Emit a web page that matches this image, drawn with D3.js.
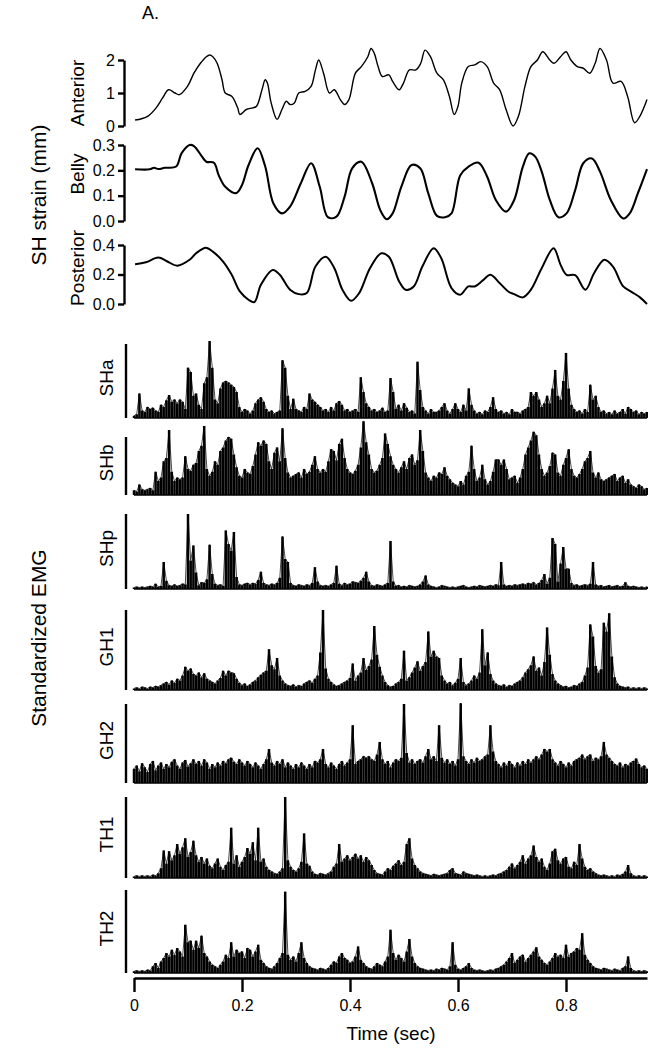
<!DOCTYPE html>
<html><head><meta charset="utf-8">
<script src="https://cdn.jsdelivr.net/npm/d3@7"></script>
<style>
body{margin:0;background:#fff}
text{font-family:"Liberation Sans",Arial,Helvetica,sans-serif;fill:#000}
</style>
</head><body>
<svg id="c" width="648" height="1050"></svg>
<script>
// ---------- strain data (time in s, strain in mm) ----------
const antT=[0.002,0.014,0.026,0.041,0.053,0.064,0.076,0.084,0.099,0.111,0.123,0.134,0.140,0.146,0.154,0.163,0.169,0.181,0.192,0.196,0.208,0.220,0.227,0.237,0.243,0.247,0.254,0.265,0.274,0.282,0.289,0.297,0.305,0.317,0.328,0.336,0.342,0.351,0.362,0.371,0.382,0.390,0.398,0.410,0.421,0.433,0.439,0.445,0.452,0.460,0.472,0.479,0.491,0.499,0.510,0.522,0.531,0.539,0.549,0.561,0.573,0.584,0.593,0.600,0.607,0.619,0.631,0.642,0.654,0.666,0.677,0.689,0.702,0.712,0.724,0.735,0.747,0.757,0.770,0.778,0.790,0.800,0.809,0.821,0.832,0.844,0.854,0.863,0.875,0.887,0.902,0.914,0.927,0.937,0.950];
const antV=[0.18,0.22,0.30,0.55,0.85,1.10,1.00,0.95,1.20,1.60,1.90,2.10,2.15,2.10,1.90,1.40,1.00,0.90,0.55,0.35,0.50,0.55,0.60,1.10,1.40,1.30,0.70,0.20,0.50,0.75,0.65,0.70,1.00,1.05,1.20,1.70,2.00,1.60,1.00,1.10,0.80,0.65,0.80,1.60,1.80,2.10,2.35,2.20,1.80,1.50,1.55,1.35,1.10,1.30,1.70,1.70,1.90,2.30,2.10,1.60,1.40,0.90,0.35,0.60,1.30,1.80,1.85,1.95,1.80,1.30,1.10,0.50,0.00,0.30,1.20,1.80,2.00,2.25,2.00,1.90,2.10,2.25,2.00,1.80,1.75,1.60,1.90,2.35,2.00,1.30,1.35,0.90,0.10,0.30,0.80];
const belT=[0.002,0.029,0.037,0.045,0.057,0.078,0.088,0.103,0.111,0.126,0.134,0.148,0.157,0.169,0.189,0.200,0.212,0.229,0.243,0.258,0.274,0.289,0.309,0.328,0.344,0.359,0.375,0.390,0.404,0.421,0.441,0.456,0.468,0.479,0.495,0.514,0.530,0.545,0.561,0.576,0.588,0.604,0.619,0.638,0.654,0.670,0.689,0.704,0.720,0.732,0.743,0.755,0.770,0.786,0.801,0.817,0.832,0.848,0.863,0.883,0.906,0.918,0.933,0.950];
const belV=[0.204,0.204,0.210,0.205,0.210,0.215,0.267,0.300,0.296,0.254,0.234,0.230,0.180,0.135,0.110,0.142,0.220,0.287,0.215,0.070,0.030,0.057,0.149,0.228,0.135,0.015,0.017,0.096,0.208,0.234,0.149,0.043,0.007,0.030,0.135,0.221,0.208,0.109,0.020,0.015,0.030,0.180,0.214,0.230,0.175,0.083,0.037,0.083,0.214,0.267,0.254,0.195,0.083,0.015,0.030,0.122,0.228,0.247,0.195,0.083,0.010,0.030,0.109,0.205];
const posT=[0.002,0.022,0.045,0.061,0.080,0.103,0.115,0.133,0.146,0.165,0.181,0.196,0.212,0.223,0.235,0.257,0.270,0.289,0.305,0.320,0.336,0.355,0.371,0.386,0.402,0.417,0.437,0.458,0.472,0.491,0.503,0.518,0.534,0.555,0.569,0.588,0.604,0.619,0.631,0.646,0.660,0.677,0.693,0.704,0.720,0.735,0.755,0.777,0.790,0.801,0.817,0.836,0.852,0.871,0.887,0.906,0.922,0.937,0.950];
const posV=[0.270,0.283,0.315,0.290,0.260,0.300,0.344,0.382,0.355,0.288,0.198,0.085,0.029,0.013,0.130,0.231,0.198,0.097,0.067,0.074,0.254,0.321,0.243,0.097,0.022,0.074,0.243,0.344,0.320,0.153,0.097,0.119,0.254,0.378,0.310,0.108,0.063,0.119,0.119,0.160,0.198,0.142,0.085,0.067,0.045,0.097,0.243,0.378,0.265,0.198,0.195,0.097,0.209,0.300,0.254,0.119,0.081,0.045,0.000];

// ---------- EMG data (percent of scale bar, one sample every 5 ms) ----------
const emgStep=0.005;
const SHa=[3,5,33,10,8,15,12,14,10,8,18,15,24,31,22,25,20,25,22,12,68,62,30,33,18,12,47,55,104,68,25,20,40,48,50,48,45,42,35,15,8,12,10,6,10,20,25,28,22,12,8,10,6,8,10,78,68,30,12,26,12,10,8,15,12,33,25,22,18,15,10,12,8,15,10,20,23,18,10,12,8,10,12,8,55,35,20,15,10,12,8,10,14,8,10,54,35,12,18,10,20,14,8,10,6,76,38,15,10,6,12,8,8,10,15,20,10,6,12,20,12,8,18,10,40,18,10,6,8,5,10,8,15,28,12,8,10,6,8,5,12,8,8,6,10,12,15,35,30,35,25,15,20,30,20,40,65,30,25,50,88,40,18,12,8,10,6,12,8,45,25,30,15,8,10,6,8,5,10,6,8,12,6,15,12,8,10,5,8,6,8];
const SHb=[8,6,18,10,8,10,12,8,40,24,30,58,64,112,40,24,30,27,30,67,45,42,52,55,76,85,119,45,33,40,58,52,76,82,94,100,97,70,48,33,30,45,39,36,50,70,91,85,94,88,58,45,73,82,58,115,64,39,30,33,36,39,30,45,36,40,52,67,45,39,45,40,58,79,76,60,88,97,64,45,39,36,42,52,82,127,91,70,45,39,42,52,64,106,88,67,52,45,39,48,58,45,64,70,52,60,112,76,39,30,24,33,30,39,36,48,33,27,21,18,15,24,18,33,40,85,45,24,30,52,27,18,24,40,61,61,52,61,45,27,30,33,21,30,45,70,82,94,109,103,70,45,33,39,50,73,70,39,33,52,64,79,45,33,30,36,45,58,64,76,39,30,39,27,24,27,30,33,36,24,30,33,21,27,18,15,12,18,15,10,12];
const SHp=[2,3,2,3,2,3,4,3,7,3,4,36,11,5,4,6,4,5,7,6,100,38,58,22,5,9,8,13,59,20,7,5,6,4,78,60,51,76,16,6,5,7,8,6,8,7,12,23,8,6,5,7,6,8,15,70,40,36,8,5,4,6,5,4,6,5,8,29,10,5,4,5,4,6,8,31,7,5,8,6,7,10,9,8,11,15,23,10,5,4,6,5,4,6,8,64,10,4,5,3,4,3,5,4,3,4,6,10,18,6,4,3,2,3,5,4,3,2,3,2,3,4,5,3,2,3,4,3,5,4,3,4,5,4,6,5,36,6,4,5,4,6,5,6,7,6,8,7,9,6,8,12,20,7,15,68,60,10,34,56,27,27,8,5,6,4,5,6,5,7,36,6,4,5,3,4,5,3,4,5,3,4,9,4,3,4,3,2,3,2,3];
const GH1=[2,3,2,4,3,2,4,3,5,4,6,8,10,7,12,9,14,12,18,29,24,27,20,18,22,16,21,14,12,10,8,12,15,24,18,24,22,21,14,9,6,8,5,7,10,12,16,19,22,24,51,31,26,40,18,12,8,6,5,7,4,6,5,8,10,12,9,14,18,47,100,27,14,10,7,5,6,8,10,12,15,33,12,18,22,40,25,30,38,80,44,29,18,10,6,4,5,8,10,14,49,12,16,22,28,36,24,30,35,73,42,49,42,40,18,12,8,10,6,9,14,40,10,6,8,12,18,14,22,76,31,47,20,12,8,6,5,7,4,6,5,8,10,12,16,22,26,31,42,24,28,18,35,78,44,20,12,8,6,4,5,3,4,6,5,8,10,18,28,82,67,30,22,26,84,73,96,42,16,8,5,4,3,4,2,3,2,3,2,3,2];
const GH2=[18,22,15,25,20,14,24,28,16,22,26,18,24,20,27,30,22,18,26,29,21,25,30,24,28,22,30,26,18,24,20,26,22,28,25,30,32,27,24,30,26,22,28,24,20,26,22,18,24,30,43,26,22,28,24,30,20,26,22,18,24,20,26,22,18,24,20,28,26,30,43,24,20,26,22,18,24,28,22,26,30,73,24,28,30,34,32,34,30,28,36,52,30,24,28,20,26,30,28,32,100,38,26,30,24,28,30,26,34,43,30,34,28,73,32,26,30,24,28,22,30,101,34,28,24,30,26,32,28,30,34,36,73,40,28,24,20,26,22,28,24,20,26,22,28,24,30,26,30,34,30,36,43,40,43,30,26,22,28,24,20,26,22,28,30,32,36,30,34,36,28,32,30,34,52,36,32,28,24,22,26,20,24,22,26,28,31,24,20,22,18];
const TH1=[2,3,2,3,2,3,2,4,3,6,12,34,18,33,22,28,42,30,38,49,26,32,46,28,20,26,18,24,15,12,18,24,14,10,16,20,62,18,28,14,20,26,37,30,44,22,62,20,24,14,10,8,6,5,8,12,100,22,14,10,8,12,20,55,18,15,8,5,4,6,5,4,6,8,14,18,42,20,24,28,22,26,30,24,28,20,26,22,16,10,6,5,4,8,12,10,15,18,22,16,20,42,49,24,16,12,8,6,5,4,3,5,4,3,4,5,6,10,12,6,5,4,8,6,5,4,3,4,3,2,3,2,3,4,3,5,6,8,10,14,18,12,16,20,28,18,24,28,40,26,20,24,14,10,18,33,36,22,18,24,26,14,12,20,16,42,24,14,10,12,8,6,4,3,4,3,2,3,2,4,3,5,8,16,6,3,2,3,2,3,2];
const TH2=[2,3,2,3,2,4,3,8,12,6,14,18,24,20,28,22,30,26,20,58,37,39,28,39,30,45,24,20,14,10,8,6,10,14,22,18,37,20,28,24,26,18,30,28,20,26,34,16,12,8,6,5,8,12,18,24,98,22,16,20,14,24,37,18,12,8,6,5,4,6,5,4,6,10,14,12,20,24,18,16,12,14,20,32,16,12,8,6,5,8,12,10,8,14,20,52,24,16,22,18,14,26,41,20,12,8,6,5,4,3,4,3,5,4,6,5,4,8,37,10,5,4,6,8,12,6,4,3,4,3,2,3,4,3,5,6,8,10,14,18,24,12,16,20,22,14,18,22,26,31,20,16,12,10,14,18,24,20,22,18,34,20,24,26,30,28,48,22,16,12,8,6,5,4,6,5,4,3,5,4,3,6,8,20,6,3,2,3,2,3,2];

const channels=[
  {name:"SHa",data:SHa,top:344,base:418},
  {name:"SHb",data:SHb,top:437,base:495},
  {name:"SHp",data:SHp,top:514,base:589},
  {name:"GH1",data:GH1,top:610,base:690},
  {name:"GH2",data:GH2,top:704,base:783},
  {name:"TH1",data:TH1,top:797,base:878},
  {name:"TH2",data:TH2,top:890,base:973}
];

const svg=d3.select("#c");
const x=d3.scaleLinear([0,0.95],[134,647]);
const FONT="Liberation Sans, Arial, sans-serif";

// ----- strain panels -----
const strain=[
  {label:"Anterior",t:antT,v:antV,dom:[0,2],rng:[126,60],ticks:[0,1,2],fmt:d3.format("d"),sw:1.4,ly:93},
  {label:"Belly",t:belT,v:belV,dom:[0,0.3],rng:[221,145],ticks:[0,0.1,0.2,0.3],fmt:d3.format(".1f"),sw:2.1,ly:174},
  {label:"Posterior",t:posT,v:posV,dom:[0,0.4],rng:[304,245],ticks:[0,0.2,0.4],fmt:d3.format(".1f"),sw:2,ly:268}
];
strain.forEach(p=>{
  const y=d3.scaleLinear(p.dom,p.rng);
  const ax=svg.append("g").attr("transform","translate(124,0)")
    .call(d3.axisLeft(y).tickValues(p.ticks).tickFormat(p.fmt).tickSize(6).tickSizeOuter(0).tickPadding(3));
  ax.select(".domain").attr("stroke-width",2.4);
  ax.selectAll(".tick line").attr("stroke-width",2.4);
  ax.selectAll("text").style("font-size","16px").style("font-family",FONT);
  const pts=p.t.map((t,i)=>[t,p.v[i]]);
  svg.append("path").attr("fill","none").attr("stroke","#000").attr("stroke-width",p.sw)
    .attr("stroke-linejoin","round")
    .attr("d",d3.line().x(d=>x(d[0])).y(d=>y(d[1])).curve(d3.curveCatmullRom)(pts));
  svg.append("text").attr("transform",`translate(77,${p.ly}) rotate(-90)`)
    .attr("text-anchor","middle").attr("dominant-baseline","central").style("font-size","19px").text(p.label);
});
svg.append("text").attr("transform","translate(38,195) rotate(-90)")
  .attr("text-anchor","middle").attr("dominant-baseline","central").style("font-size","21px").text("SH strain (mm)");
svg.append("text").attr("x",142).attr("y",19).style("font-size","18px").text("A.");

// ----- EMG panels -----
channels.forEach(c=>{
  const y=d3.scaleLinear([0,100],[c.base,c.top]);
  svg.append("line").attr("x1",126).attr("x2",126).attr("y1",y(0)).attr("y2",y(100))
    .attr("stroke","#000").attr("stroke-width",2.4);
  const spikes=c.data.map((v,i)=>`M${x(i*emgStep).toFixed(2)},${y(0).toFixed(2)}V${y(v).toFixed(2)}`).join("");
  svg.append("path").attr("d",spikes).attr("stroke","#000").attr("stroke-width",2.5).attr("fill","none");
  svg.append("path").attr("fill","none").attr("stroke","#000").attr("stroke-width",0.7)
    .attr("d",d3.line().x((d,i)=>x(i*emgStep)).y(d=>y(d))(c.data));
  svg.append("line").attr("x1",x(0)).attr("x2",x(0.95)).attr("y1",y(0)).attr("y2",y(0))
    .attr("stroke","#000").attr("stroke-width",1.3);
  svg.append("text").attr("transform",`translate(106,${(c.top+c.base)/2-3}) rotate(-90)`)
    .attr("text-anchor","middle").attr("dominant-baseline","central").style("font-size","19px").text(c.name);
});
svg.append("text").attr("transform","translate(38,638) rotate(-90)")
  .attr("text-anchor","middle").attr("dominant-baseline","central").style("font-size","21px").text("Standardized EMG");

// ----- time axis -----
const xa=svg.append("g").attr("transform","translate(0,978)")
  .call(d3.axisBottom(x).tickValues([0,0.2,0.4,0.6,0.8]).tickFormat(d=>d===0?"0":d3.format(".1f")(d))
    .tickSize(14).tickSizeOuter(0).tickPadding(8));
xa.select(".domain").attr("stroke-width",2.4);
xa.selectAll(".tick line").attr("stroke-width",2.4);
xa.selectAll("text").style("font-size","16px").style("font-family",FONT);
svg.append("text").attr("x",391).attr("y",1040).attr("text-anchor","middle").style("font-size","19px").text("Time (sec)");
</script>
</body></html>
